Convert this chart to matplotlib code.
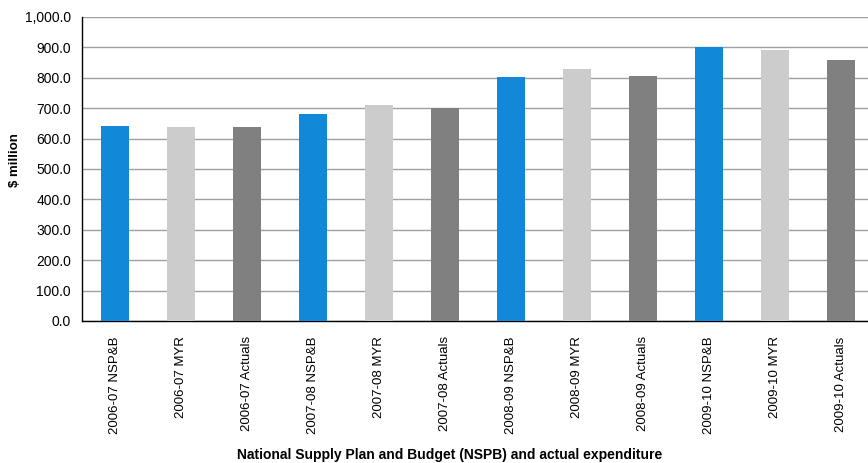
import numpy as np
import matplotlib
matplotlib.use('Agg')
import matplotlib.pyplot as plt
from matplotlib.ticker import FuncFormatter

plt.rcParams['font.family'] = ['Liberation Sans', 'DejaVu Sans']

labels = ['2006-07 NSP&B', '2006-07 MYR', '2006-07 Actuals',
          '2007-08 NSP&B', '2007-08 MYR', '2007-08 Actuals',
          '2008-09 NSP&B', '2008-09 MYR', '2008-09 Actuals',
          '2009-10 NSP&B', '2009-10 MYR', '2009-10 Actuals']
values = [641, 638, 638, 681, 710, 700, 802, 829, 806, 901, 891, 859]
colors = ['#1188d8', '#cccccc', '#808080'] * 4

fig = plt.figure(figsize=(8.68, 4.63), dpi=100)
ax = fig.add_axes([82/868, 1 - 321/463, 792/868, 304/463])

x = np.arange(len(values))
ax.bar(x, values, width=0.41, color=colors, zorder=3)
ax.set_xlim(-0.5, len(values) - 0.5)
ax.set_ylim(0, 1000)
ax.set_yticks(np.arange(0, 1001, 100))
ax.yaxis.set_major_formatter(FuncFormatter(lambda v, p: '{:,.1f}'.format(v)))
ax.grid(axis='y', color='#a0a0a0', linewidth=1, zorder=0)
ax.set_xticks(x)
ax.set_xticklabels(labels, rotation=90, fontsize=9.5)
ax.tick_params(axis='y', labelsize=10, length=0, pad=8)
ax.tick_params(axis='x', length=0, pad=11)
for s in ['top', 'right']:
    ax.spines[s].set_visible(False)
for s in ['left', 'bottom']:
    ax.spines[s].set_color('black')
    ax.spines[s].set_linewidth(1)
fig.text(15/868, 1 - 160/463, '$ million', rotation=90, ha='center', va='center',
         fontsize=9.5, fontweight='bold')
fig.text(450/868, 1 - 455/463, 'National Supply Plan and Budget (NSPB) and actual expenditure',
         ha='center', va='center', fontsize=10, fontweight='bold')

plt.savefig('out.png', dpi=100)
